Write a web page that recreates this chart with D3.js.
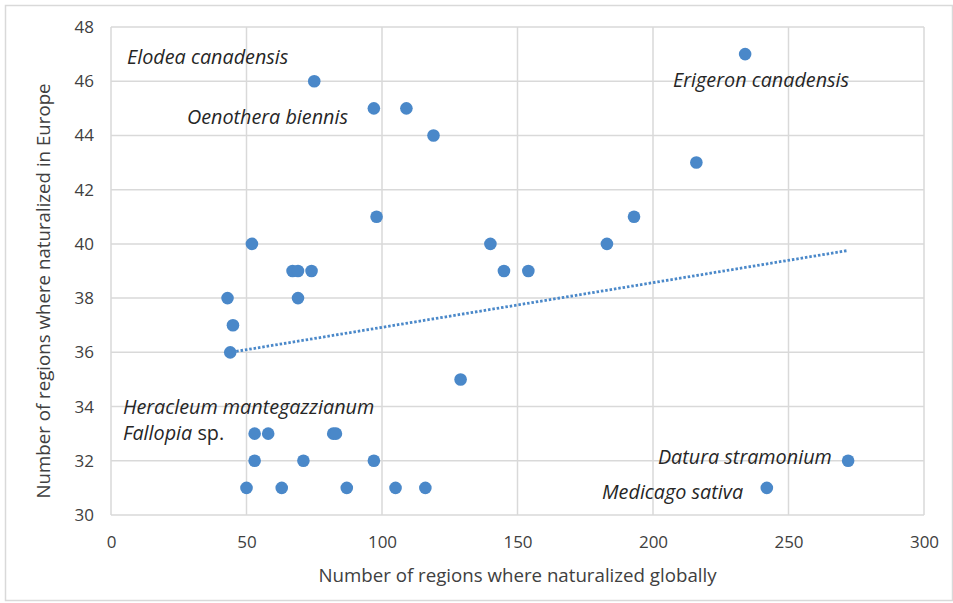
<!DOCTYPE html>
<html lang="en">
<head>
    <meta charset="UTF-8">
    <title>Naturalized regions: global vs Europe</title>
    <script src="https://d3js.org/d3.v7.min.js"></script>
    <style>
        body { margin: 0; background: #fff; }
        text { font-family: "Open Sans", "Liberation Sans", sans-serif; fill: #404040; }
    </style>
</head>
<body>
    <svg id="chart" width="953" height="603"></svg>

    <script>
        // Data
        var globalRegions = [234, 75, 97, 109, 119, 216, 98, 193, 52, 140, 183, 67, 69, 74, 145, 154,
                             43, 69, 45, 44, 129, 53, 58, 82, 83, 53, 71, 97, 272, 50, 63, 87, 105, 116, 242];
        var europeRegions = [47, 46, 45, 45, 44, 43, 41, 41, 40, 40, 40, 39, 39, 39, 39, 39,
                             38, 38, 37, 36, 35, 33, 33, 33, 33, 32, 32, 32, 32, 31, 31, 31, 31, 31, 31];
        var xTicks = [0, 50, 100, 150, 200, 250, 300];
        var yTicks = [30, 32, 34, 36, 38, 40, 42, 44, 46, 48];

        // Species labels: italic name, plain suffix, placed in data units
        var labelNames = ["Elodea canadensis", "Oenothera biennis", "Erigeron canadensis",
                          "Heracleum mantegazzianum", "Fallopia", "Datura stramonium", "Medicago sativa"];
        var labelSuffix = ["", "", "", "", " sp.", "", ""];
        var labelX = [5.9, 28, 207.4, 4.4, 4.4, 201.8, 181.2];
        var labelY = [46.63, 44.42, 45.79, 33.72, 32.76, 31.87, 30.58];

        var data = globalRegions.map(function(d, i) { return { x: d, y: europeRegions[i] }; });

        var margin = { top: 27, right: 29, bottom: 88, left: 111 };
        var width = 953 - margin.left - margin.right;
        var height = 603 - margin.top - margin.bottom;

        var svg = d3.select("#chart");

        // outer chart frame
        svg.append("rect")
           .attr("x", 5.5).attr("y", 5.5)
           .attr("width", 947).attr("height", 595)
           .attr("fill", "none")
           .attr("stroke", "#d9d9d9")
           .attr("stroke-width", 1.5);

        var g = svg.append("g")
                   .attr("transform", "translate(" + margin.left + "," + margin.top + ")");

        var x = d3.scaleLinear().domain([0, 300]).range([0, width]);
        var y = d3.scaleLinear().domain([30, 48]).range([height, 0]);

        // grid lines
        g.append("g").selectAll("line").data(xTicks).enter().append("line")
         .attr("x1", d => x(d)).attr("x2", d => x(d))
         .attr("y1", 0).attr("y2", height)
         .attr("stroke", "#d9d9d9").attr("stroke-width", 1.5);

        g.append("g").selectAll("line").data(yTicks).enter().append("line")
         .attr("x1", 0).attr("x2", width)
         .attr("y1", d => y(d)).attr("y2", d => y(d))
         .attr("stroke", "#d9d9d9").attr("stroke-width", 1.5);

        // axes (labels only)
        var xAxis = g.append("g")
                     .attr("transform", "translate(0," + height + ")")
                     .call(d3.axisBottom(x).tickValues(xTicks).tickSize(0).tickPadding(21));
        var yAxis = g.append("g")
                     .call(d3.axisLeft(y).tickValues(yTicks).tickSize(0).tickPadding(17));
        [xAxis, yAxis].forEach(function(a) {
            a.select(".domain").remove();
            a.selectAll("text").style("font-size", "17px").attr("fill", "#404040")
             .style("font-family", "\"Open Sans\", sans-serif");
        });

        // least-squares trendline over the points
        var mx = d3.mean(data, d => d.x), my = d3.mean(data, d => d.y);
        var slope = d3.sum(data, d => (d.x - mx) * (d.y - my)) / d3.sum(data, d => (d.x - mx) * (d.x - mx));
        var icpt = my - slope * mx;
        var xr = d3.extent(data, d => d.x);

        // points
        g.append("g").selectAll("circle").data(data).enter().append("circle")
         .attr("cx", d => x(d.x))
         .attr("cy", d => y(d.y))
         .attr("r", 6.3)
         .attr("fill", "#4a88c9");

        g.append("line")
         .attr("x1", x(xr[0])).attr("y1", y(icpt + slope * xr[0]))
         .attr("x2", x(xr[1])).attr("y2", y(icpt + slope * xr[1]))
         .attr("stroke", "#4a88c9")
         .attr("stroke-width", 2.8)
         .attr("stroke-dasharray", "2.5,1.9");

        // species labels
        var labels = g.append("g").selectAll("text").data(labelNames).enter().append("text")
                      .attr("x", (d, i) => x(labelX[i]))
                      .attr("y", (d, i) => y(labelY[i]))
                      .style("font-size", "19.8px")
                      .style("fill", "#262626");
        labels.append("tspan").style("font-style", "italic").text(d => d);
        labels.append("tspan").text((d, i) => labelSuffix[i]);

        // axis titles
        svg.append("text")
           .attr("x", margin.left + width / 2)
           .attr("y", 582)
           .attr("text-anchor", "middle")
           .style("font-size", "18.7px")
           .text("Number of regions where naturalized globally");

        svg.append("text")
           .attr("transform", "translate(50,291) rotate(-90)")
           .attr("text-anchor", "middle")
           .style("font-size", "18.7px")
           .text("Number of regions where naturalized in Europe");
    </script>
</body>
</html>
